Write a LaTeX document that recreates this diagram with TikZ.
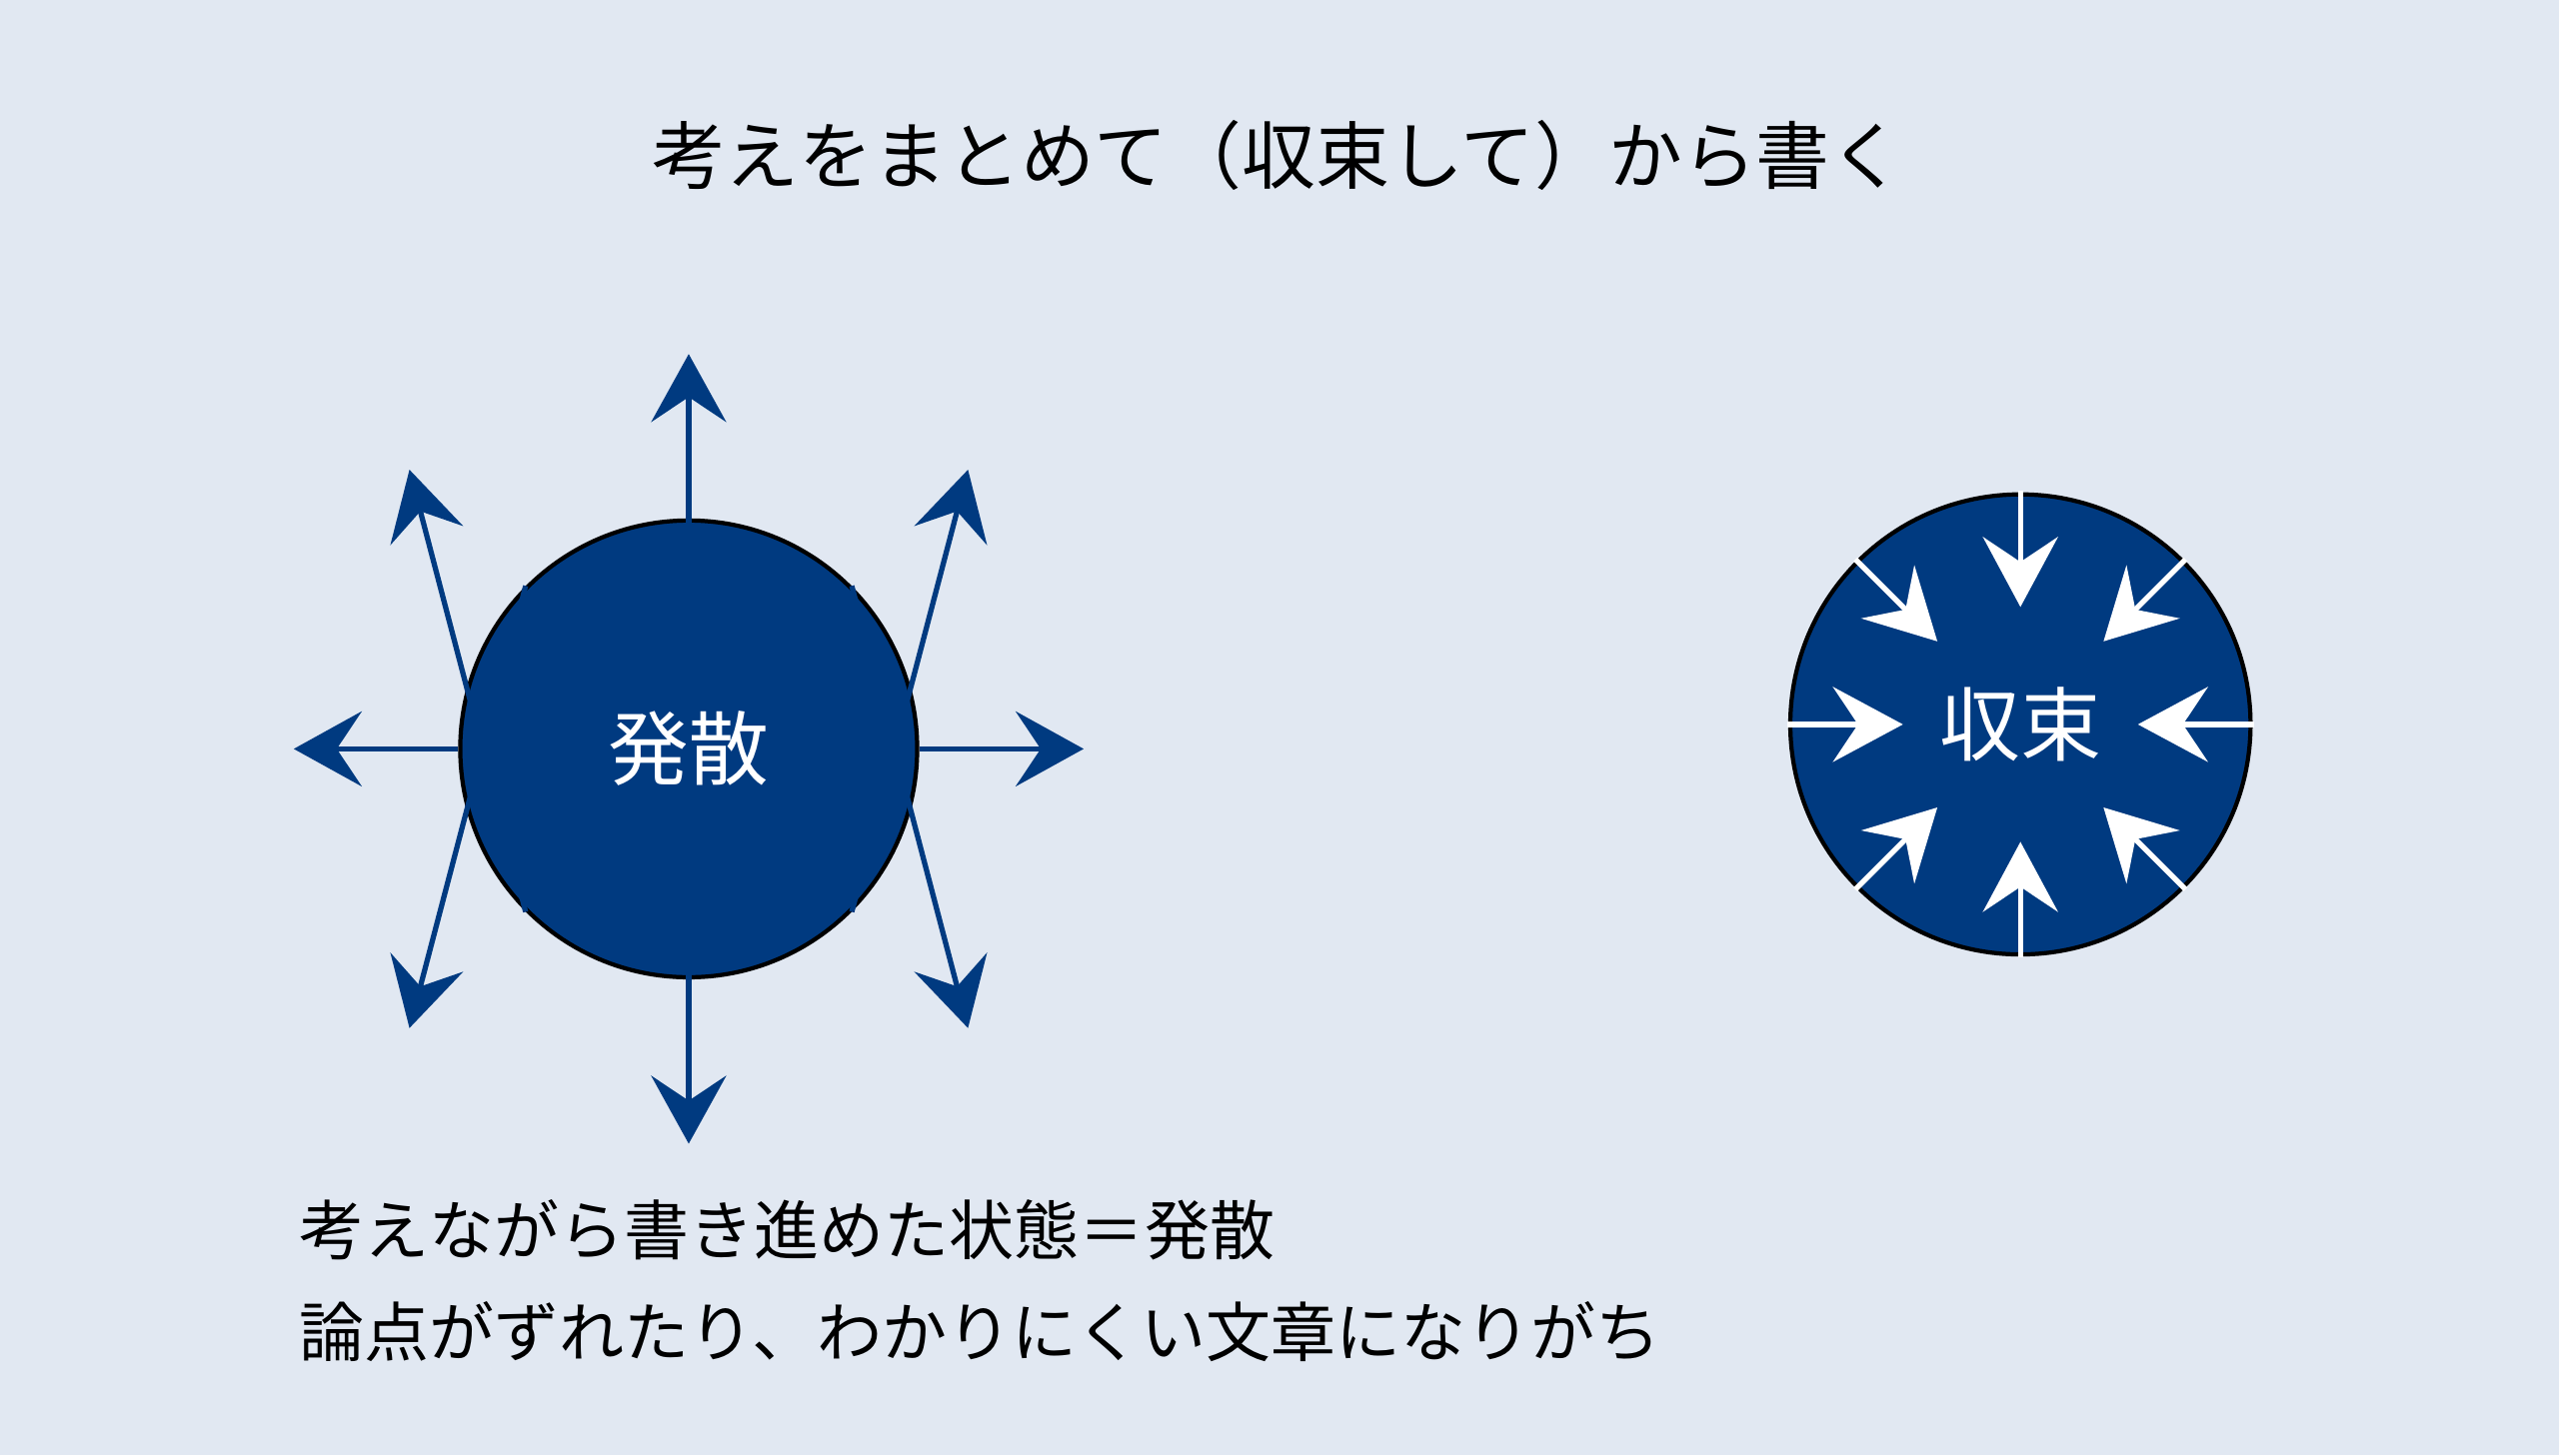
\documentclass[tikz,border=0pt]{standalone}
\usepackage{fontspec}
\setmainfont{Noto Sans CJK JP}
\usetikzlibrary{arrows.meta,positioning,calc}
\definecolor{bgblue}{HTML}{E1E8F2}
\definecolor{navy}{HTML}{003A80}
\tikzset{
  ball/.style={circle,draw=black,line width=1.2pt,fill=navy,text=white,inner sep=0pt},
  outarrow/.style={draw=navy,line width=1.5pt,-{Stealth[length=0.68cm,width=0.75cm,inset=0.25cm]}},
  inarrow/.style={draw=white,line width=1.5pt,-{Stealth[length=0.7cm,width=0.75cm,inset=0.25cm]}}
}
\begin{document}
\begin{tikzpicture}[x=0.016327cm,y=-0.016327cm]
\useasboundingbox[fill=bgblue] (0,0) rectangle (1568,892);
\node (title) at (783,95) {\fontsize{21pt}{25pt}\selectfont 考えをまとめて（収束して）から書く};

% diverge
\node[ball,minimum size=280*0.016327cm,font=\fontsize{23pt}{27pt}\selectfont] (hassan) at (422,459) {発散};
\foreach \a in {0,45,...,315}{
  \coordinate (h\a) at ($(hassan.center)+(\a:242)$);
  \draw[outarrow] (hassan.\a) -- (h\a);
}

% converge
\node[ball,minimum size=282*0.016327cm,font=\fontsize{23pt}{27pt}\selectfont] (shuusoku) at (1238,444) {収束};
\foreach \a in {0,45,...,315}{
  \coordinate (s\a) at ($(shuusoku.center)+(\a:72)$);
  \draw[inarrow] ($(shuusoku.center)+(\a:143)$) -- (s\a);
}

\node[anchor=west,align=left,font=\fontsize{18.5pt}{29pt}\selectfont] (note) at (176,785)
  {考えながら書き進めた状態＝発散\\論点がずれたり、わかりにくい文章になりがち};
\end{tikzpicture}
\end{document}
